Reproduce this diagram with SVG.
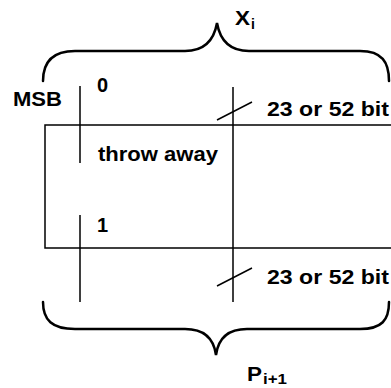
<svg xmlns="http://www.w3.org/2000/svg" width="391" height="388" viewBox="0 0 391 388">
<style>
.ln{stroke:#000;stroke-width:1.5;fill:none}
.br{stroke:#000;stroke-width:2.5;fill:none;stroke-linecap:round}
.t{font-family:"Liberation Sans",Arial,Helvetica,sans-serif;font-weight:bold;font-size:20px;fill:#000}
.s{font-family:"Liberation Sans",Arial,Helvetica,sans-serif;font-weight:bold;font-size:14px;fill:#000}
</style>
<rect width="391" height="388" fill="#fff"/>
<g id="connectors">
<path class="br" d="M43,81 C43,62 52,51 75,51 L185,51 C205,51 214,40 217,23 C220,40 229,51 249,51 L360,51 C382,51 389,62 389,81"/>
<path class="br" d="M43,302 C43,320 52,329 75,329 L185,329 C205,329 214,340 216,355 C218,340 227,329 247,329 L360,329 C382,329 389,320 389,302"/>
<path class="ln" d="M80,86 V163 M80,215 V302 M233,87 V302"/>
<path class="ln" d="M217,120 L252,102 M217,286 L252,268"/>
</g>
<g id="register">
<path class="ln" d="M392,125 H45 V248 H392"/>
</g>
<g id="labels">
<text class="t" x="235" y="25" textLength="15" lengthAdjust="spacingAndGlyphs">X</text><text class="s" x="251" y="29">i</text>
<text class="t" x="13" y="106" textLength="49" lengthAdjust="spacingAndGlyphs">MSB</text>
<text class="t" x="97" y="92">0</text>
<text class="t" x="267" y="116" textLength="122" lengthAdjust="spacingAndGlyphs">23 or 52 bit</text>
<text class="t" x="98" y="161" textLength="120" lengthAdjust="spacingAndGlyphs">throw away</text>
<text class="t" x="97" y="232">1</text>
<text class="t" x="267" y="284" textLength="122" lengthAdjust="spacingAndGlyphs">23 or 52 bit</text>
<text class="t" x="247" y="381" textLength="15" lengthAdjust="spacingAndGlyphs">P</text><text class="s" x="263" y="384" textLength="24" lengthAdjust="spacingAndGlyphs">i+1</text>
</g>
</svg>
